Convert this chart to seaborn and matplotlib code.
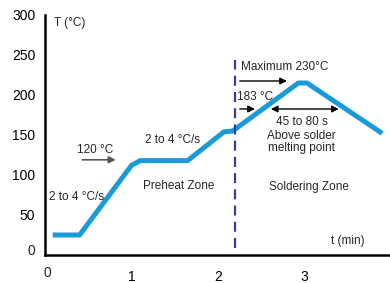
import numpy as np
import pandas as pd
import matplotlib
matplotlib.use('Agg')
import matplotlib.pyplot as plt
import seaborn as sns

# reflow profile
t_min = [0.09, 0.40, 1.00, 1.10, 1.65, 2.07, 2.17, 2.93, 3.03, 3.90]
temp_c = [25, 25, 112, 118, 118, 154, 155, 215, 215, 152]
x_ticks = [1, 2, 3]
y_ticks = [50, 100, 150, 200, 250, 300]
zone_split = 2.2

df = pd.DataFrame({'t': t_min, 'T': temp_c})

sns.set_style('white')
plt.rcParams['font.family'] = ['Liberation Sans', 'DejaVu Sans']

fig = plt.figure(figsize=(3.9, 2.83), dpi=100)
ax = fig.add_axes([45 / 390, 1 - 255 / 283, 1 - 45 / 390, (255 - 15) / 283])

sns.lineplot(data=df, x='t', y='T', ax=ax, color='#1b9ad8', lw=3.6,
             solid_joinstyle='round', solid_capstyle='butt')

ax.plot([zone_split, zone_split], [9, 244], color='#3b3b98', lw=1.6,
        dashes=(4.5, 2.8))

ax.set_xlim(0, 3.99)
ax.set_ylim(0, 300)
ax.set_xticks(x_ticks)
ax.set_yticks(y_ticks)
ax.set_xlabel('')
ax.set_ylabel('')
ax.tick_params(axis='both', direction='out', length=5, width=1.5,
               colors='black', labelsize=10, pad=2)
ax.tick_params(axis='x', pad=6)
sns.despine(ax=ax)
for s in ['left', 'bottom']:
    ax.spines[s].set_linewidth(1.8)
    ax.spines[s].set_color('black')
# zero labels without tick marks
ax.text(-0.11, 5, '0', ha='right', va='center', fontsize=10)
ax.text(0.03, -22, '0', ha='center', va='center', fontsize=10)

fs = 8.5
ax.text(0.10, 290, 'T (°C)', fontsize=fs, va='center')
ax.text(0.37, 131, '120 °C', fontsize=fs, va='center')
ax.annotate('', xy=(0.85, 119), xytext=(0.40, 119),
            arrowprops=dict(arrowstyle='-|>', color='#555555', lw=1.2,
                            mutation_scale=10))
ax.text(0.05, 72.5, '2 to 4 °C/s', fontsize=fs, va='center')
ax.text(1.16, 144, '2 to 4 °C/s', fontsize=fs, va='center')
ax.text(1.13, 86, 'Preheat Zone', fontsize=fs, va='center')
ax.text(2.59, 85, 'Soldering Zone', fontsize=fs, va='center')
ax.text(3.31, 17.5, 't (min)', fontsize=fs, va='center')
ax.text(2.27, 235, 'Maximum 230°C', fontsize=fs, va='center')
ax.annotate('', xy=(2.83, 217.5), xytext=(2.22, 217.5),
            arrowprops=dict(arrowstyle='-|>', color='black', lw=1,
                            mutation_scale=10))
ax.text(2.22, 197.5, '183 °C', fontsize=fs, va='center')
ax.annotate('', xy=(2.46, 182.5), xytext=(2.22, 182.5),
            arrowprops=dict(arrowstyle='-|>', color='black', lw=1,
                            mutation_scale=10))
ax.annotate('', xy=(3.43, 182.5), xytext=(2.58, 182.5),
            arrowprops=dict(arrowstyle='<|-|>', color='black', lw=1,
                            mutation_scale=10))
ax.text(2.97, 166, '45 to 80 s', fontsize=fs, ha='center', va='center')
ax.text(2.97, 149, 'Above solder', fontsize=fs, ha='center', va='center')
ax.text(2.97, 134, 'melting point', fontsize=fs, ha='center', va='center')

fig.savefig('out.png', dpi=100)
